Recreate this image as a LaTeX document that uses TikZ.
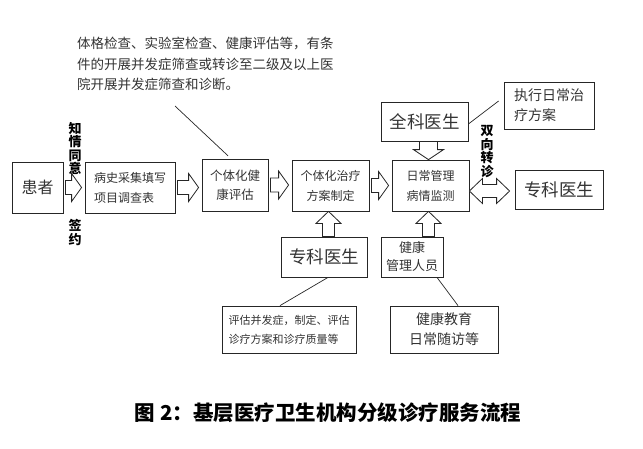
\documentclass[tikz,border=0pt]{standalone}
\usepackage{fontspec}
\setmainfont{Noto Sans CJK SC}
\usetikzlibrary{positioning, calc}

\newcommand{\rarrow}[2]{%
  \draw[blockarr] let \p1=(#1.east), \p2=(#2.west) in
    (\x1+2pt,\y1+7pt) -- (\x2-13pt,\y1+7pt) -- (\x2-13pt,\y1+14pt) -- (\x2-3pt,\y1)
    -- (\x2-13pt,\y1-14pt) -- (\x2-13pt,\y1-7pt) -- (\x1+2pt,\y1-7pt) -- cycle;}
\newcommand{\darrow}[2]{%
  \draw[blockarr] let \p1=(#1.south), \p2=([xshift=-2pt]#2.north) in
    (\x2-9pt,\y1) -- (\x2-9pt,\y2+10pt) -- (\x2-15pt,\y2+10pt) -- (\x2,\y2)
    -- (\x2+15pt,\y2+10pt) -- (\x2+9pt,\y2+10pt) -- (\x2+9pt,\y1) -- cycle;}
\newcommand{\uarrow}[2]{%
  \draw[blockarr] let \p1=(#1.north), \p2=([xshift=-2pt]#2.south) in
    (\x2-6pt,\y1) -- (\x2-6pt,\y2-12pt) -- (\x2-12.5pt,\y2-12pt) -- (\x2,\y2)
    -- (\x2+12.5pt,\y2-12pt) -- (\x2+6pt,\y2-12pt) -- (\x2+6pt,\y1) -- cycle;}
\newcommand{\botharrow}[2]{%
  \draw[blockarr] let \p1=(#1.east), \p2=(#2.west) in
    (\x1,\y2-1.5pt) -- (\x1+13pt,\y2+11pt) -- (\x1+13pt,\y2+5pt) -- (\x2-18pt,\y2+5pt)
    -- (\x2-18pt,\y2+11pt) -- (\x2-5pt,\y2-1.5pt) -- (\x2-18pt,\y2-14pt) -- (\x2-18pt,\y2-8pt)
    -- (\x1+13pt,\y2-8pt) -- (\x1+13pt,\y2-14pt) -- cycle;}

\begin{document}
\begin{tikzpicture}[x=1pt,y=-1pt]
  \tikzstyle{box}=[draw=black!85,line width=0.8pt,inner sep=0pt,text=black!80]
  \tikzstyle{blockarr}=[draw=black!85,line width=0.8pt,fill=white,line join=miter]
  \tikzstyle{side}=[font=\bfseries\fontsize{13}{13.5}\selectfont,align=center,inner sep=0pt]
  \useasboundingbox (0,0) rectangle (643,448);
  % top note
  \node[anchor=north west,align=left,inner sep=0pt,text=black!80,
        font=\fontsize{13.5}{20.5}\selectfont] (note) at (77,37)
    {体格检查、实验室检查、健康评估等，有条\\件的开展并发症筛查或转诊至二级及以上医\\院开展并发症筛查和诊断。};
  \coordinate (notetip) at (175,106);
  % main row
  \node[box,minimum width=51,minimum height=51,font=\fontsize{16}{18}\selectfont] (patient) at (37.5,187.5) {患者};
  \node[box,minimum width=90,minimum height=51,align=left,font=\fontsize{12}{20}\selectfont] (history) at (130,187.5) {病史采集填写\\项目调查表};
  \node[box,minimum width=66,minimum height=52,align=center,font=\fontsize{12.5}{19.5}\selectfont] (assess) at (235,185) {个体化健\\康评估};
  \node[box,minimum width=77,minimum height=51,align=center,font=\fontsize{12}{20}\selectfont] (plan) at (330.5,185.5) {个体化治疗\\方案制定};
  \node[box,minimum width=77,minimum height=51,align=left,font=\fontsize{12}{20}\selectfont] (daily) at (430.5,185.5) {日常管理\\病情监测};
  \node[box,minimum width=87,minimum height=39,font=\fontsize{17.5}{18}\selectfont] (gp) at (424.5,121.5) {全科医生};
  \node[box,minimum width=90,minimum height=47,align=left,font=\fontsize{14}{20}\selectfont] (execute) at (549,105.5) {执行日常治\\疗方案};
  \node[box,minimum width=88,minimum height=39,font=\fontsize{17.5}{18}\selectfont] (spec) at (559,189.5) {专科医生};
  % lower row
  \node[box,minimum width=86,minimum height=40,font=\fontsize{17.5}{18}\selectfont] (specL) at (324,257) {专科医生};
  \node[box,minimum width=62,minimum height=40,align=center,font=\fontsize{13}{18}\selectfont] (hm) at (412,257) {健康\\管理人员};
  \node[box,minimum width=134,minimum height=47,align=left,font=\fontsize{11}{19}\selectfont] (evalbox) at (289,329.5) {评估并发症，制定、评估\\诊疗方案和诊疗质量等};
  \node[box,minimum width=108,minimum height=47,align=center,font=\fontsize{14}{20}\selectfont] (edubox) at (444,329.5) {健康教育\\日常随访等};
  % side labels
  \node[side] (consent) at (75,148.5) {知\\情\\同\\意};
  \node[side] (sign) at (75,232.5) {签\\约};
  \node[side] (referral) at (487,151.5) {双\\向\\转\\诊};
  % caption
  \node[font=\bfseries\fontsize{20.5}{22}\selectfont,inner sep=0pt] (caption) at (328,413) {图 2：基层医疗卫生机构分级诊疗服务流程};
  % block arrows
  \rarrow{patient}{history}
  \rarrow{history}{assess}
  \rarrow{assess}{plan}
  \rarrow{plan}{daily}
  \darrow{gp}{daily}
  \uarrow{specL}{plan}
  \uarrow{hm}{daily}
  \botharrow{daily}{spec}
  % thin lines
  \draw[line width=0.7pt,black!85,shorten >=4pt] (notetip) -- ([xshift=-4pt]assess.north);
  \draw[line width=0.7pt,black!85] ($(gp.east)+(0,2.5)$) -- ($(execute.west)+(-5,-4.5)$);
  \draw[line width=0.7pt,black!85] ([xshift=4pt]specL.south) -- ([xshift=-9pt]evalbox.north);
  \draw[line width=0.7pt,black!85] ([xshift=25pt]hm.south) -- ([xshift=14pt]edubox.north);
\end{tikzpicture}
\end{document}
